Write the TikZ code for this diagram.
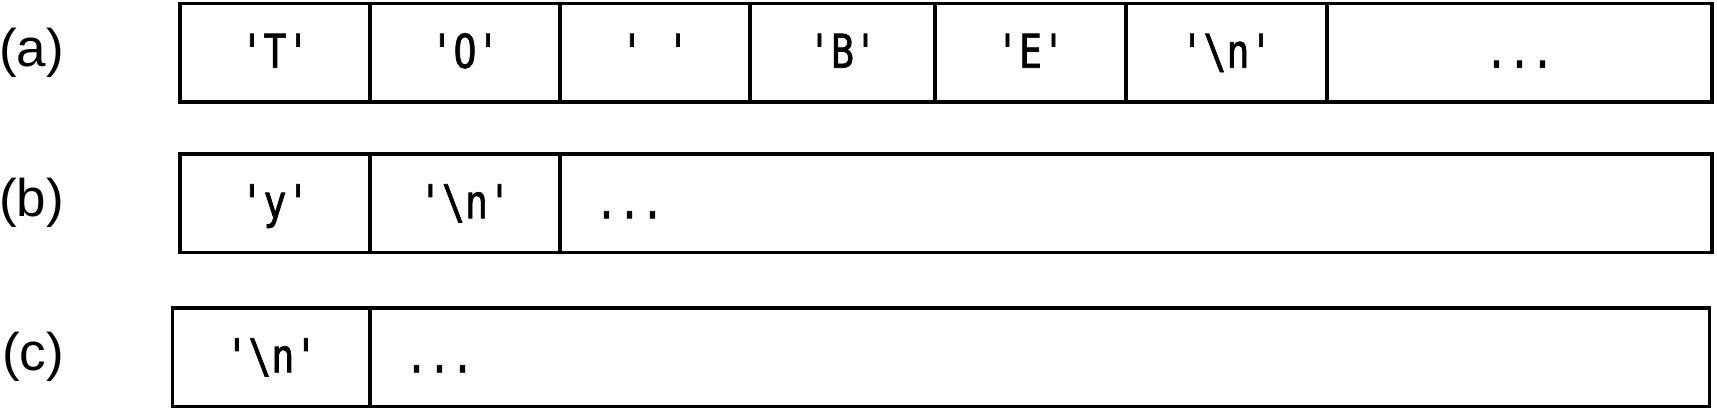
\documentclass[tikz,border=0pt]{standalone}
\usepackage{fontspec}
\setmainfont{Liberation Sans}
\newfontfamily\cellfont[FakeStretch=0.82,FakeBold=1.5,Ligatures=TeXOff]{DejaVu Sans Mono}
\usetikzlibrary{positioning}

\tikzset{
  cell/.style={draw, line width=3.4pt, outer sep=0pt, inner sep=0pt,
    minimum height=98.5pt, text height=34pt, text depth=4pt,
    font=\cellfont\fontsize{46.6}{50}\selectfont},
  rest/.style={cell, align=left, inner xsep=35pt, text width=#1},
  tag/.style={inner sep=0pt, font=\fontsize{53}{60}\selectfont},
}

\begin{document}
\begin{tikzpicture}
    \useasboundingbox (0,0) rectangle (1717pt,-409pt);

    % Row (a)
    \node[cell, minimum width=190pt, anchor=north west] (a1) at (180pt,-3.5pt) {'T'};
    \node[cell, minimum width=190pt, right=0pt of a1] (a2) {'O'};
    \node[cell, minimum width=190pt, right=0pt of a2] (a3) {' '};
    \node[cell, minimum width=185pt, right=0pt of a3] (a4) {'B'};
    \node[cell, minimum width=191pt, right=0pt of a4] (a5) {'E'};
    \node[cell, minimum width=201pt, right=0pt of a5] (a6) {'\textbackslash n'};
    \node[cell, minimum width=385pt, right=0pt of a6] (a7) {...};
    \node[tag, left=116pt of a1] (la) {(a)};

    % Row (b)
    \node[cell, minimum width=190pt, anchor=north west] (b1) at (180pt,-154pt) {'y'};
    \node[cell, minimum width=190pt, right=0pt of b1] (b2) {'\textbackslash n'};
    \node[rest=1082pt, right=0pt of b2] (b3) {...};
    \node[tag, left=116pt of b1] (lb) {(b)};

    % Row (c)
    \node[cell, minimum width=197.3pt, anchor=north west] (c1) at (172.7pt,-308pt) {'\textbackslash n'};
    \node[rest=1269.3pt, right=0pt of c1] (c2) {...};
    \node[tag, left=108.7pt of c1] (lc) {(c)};
\end{tikzpicture}
\end{document}
